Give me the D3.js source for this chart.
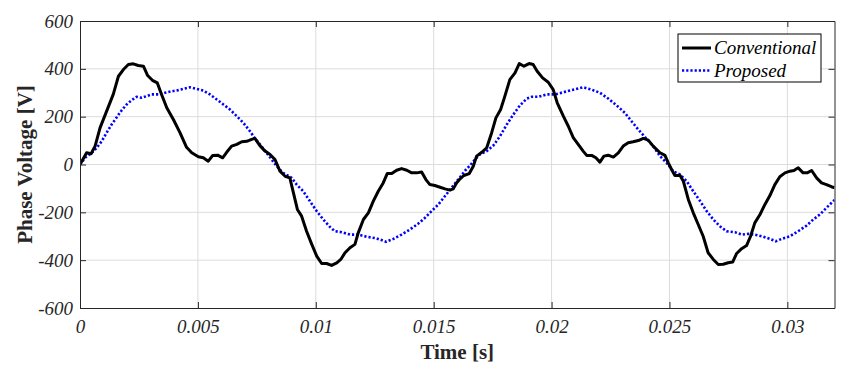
<!DOCTYPE html>
<html>
<head>
<meta charset="utf-8">
<script src="https://cdn.jsdelivr.net/npm/d3@7"></script>
<style>
  body { margin: 0; background: #fff; }
  text { font-family: "Liberation Serif", "Times New Roman", serif; }
</style>
</head>
<body>
<div id="chart"></div>
<script>
// Time [s] and voltage [V]
const convTime = [0,0.00028,0.00047,0.00064,0.00085,0.00113,0.00141,0.00163,0.00184,0.00205,0.00226,0.00247,0.00269,0.00287,0.00307,0.00328,0.00346,0.00368,0.00396,0.00424,0.00452,0.00474,0.00502,0.00523,0.00544,0.00563,0.00584,0.00605,0.00622,0.00643,0.00665,0.00686,0.00707,0.00728,0.00742,0.00763,0.00785,0.00806,0.00827,0.00848,0.0087,0.0089,0.00905,0.00922,0.0094,0.00961,0.00983,0.01004,0.01025,0.01046,0.01067,0.01089,0.01106,0.01124,0.01145,0.01166,0.0118,0.01202,0.01223,0.01244,0.01265,0.01286,0.01303,0.01322,0.01343,0.01364,0.01386,0.01407,0.01428,0.01449,0.01467,0.01484,0.01505,0.01527,0.01548,0.01569,0.01583,0.01597,0.01612,0.01628,0.01651,0.01668,0.01682,0.01704,0.01725,0.01746,0.01764,0.01784,0.01802,0.01823,0.01845,0.01863,0.01883,0.01905,0.01922,0.01939,0.01962,0.01986,0.02007,0.02024,0.0205,0.02071,0.02092,0.02113,0.02134,0.02149,0.0217,0.02188,0.02205,0.02222,0.0224,0.02262,0.02283,0.02304,0.02325,0.02346,0.02368,0.02389,0.0241,0.02431,0.0246,0.02481,0.02495,0.02509,0.02523,0.02545,0.02559,0.0258,0.02601,0.02622,0.02643,0.02664,0.02686,0.02707,0.02728,0.02749,0.02768,0.02785,0.02806,0.02827,0.02844,0.02862,0.02884,0.02905,0.02926,0.02947,0.02968,0.0299,0.03011,0.03028,0.03046,0.03067,0.03084,0.03103,0.03124,0.03145,0.03166,0.03187,0.032];
const convVolt = [0,49,45,77,153,223,293,369,397,418,421,414,411,372,352,341,293,237,188,133,72,49,32,28,14,38,39,28,51,77,84,95,97,105,109,79,56,42,21,-28,-49,-56,-118,-188,-216,-279,-334,-383,-414,-414,-422,-411,-397,-369,-348,-334,-286,-230,-202,-153,-112,-77,-38,-38,-24,-17,-24,-35,-35,-31,-63,-84,-88,-95,-102,-107,-102,-77,-60,-46,-38,-7,35,51,70,133,195,230,286,355,383,422,411,422,418,390,362,344,313,258,202,160,112,84,56,38,38,28,10,35,39,31,49,77,91,95,100,109,102,77,49,38,7,-21,-46,-46,-70,-146,-202,-251,-300,-369,-397,-418,-417,-411,-408,-372,-352,-339,-300,-244,-209,-167,-130,-84,-51,-35,-28,-25,-14,-35,-35,-25,-56,-77,-84,-93,-97];

const propTime = [0,0.00021,0.0005,0.00071,0.00092,0.00113,0.00134,0.00156,0.00177,0.00198,0.00219,0.0024,0.00262,0.00283,0.00304,0.00332,0.0036,0.00389,0.00417,0.00438,0.00466,0.00495,0.00523,0.00551,0.0058,0.00608,0.00636,0.00665,0.00693,0.00721,0.00742,0.00763,0.00785,0.00806,0.00834,0.00862,0.00898,0.00919,0.00947,0.00975,0.01004,0.01032,0.0106,0.01081,0.0111,0.01145,0.0118,0.01216,0.01258,0.01298,0.01329,0.01364,0.01399,0.01435,0.01463,0.01491,0.0152,0.01548,0.01576,0.01604,0.01633,0.01654,0.01675,0.01696,0.01725,0.01753,0.01781,0.0181,0.01838,0.01866,0.01894,0.01916,0.01944,0.01979,0.02014,0.0205,0.02092,0.02134,0.0217,0.02205,0.0224,0.02276,0.02311,0.02339,0.02368,0.02403,0.02431,0.0246,0.02488,0.02516,0.02545,0.02573,0.02601,0.0263,0.02658,0.02686,0.02714,0.02742,0.02778,0.02806,0.02834,0.02862,0.02898,0.02926,0.02951,0.02976,0.03011,0.03046,0.03082,0.0311,0.03138,0.03166,0.03195,0.032];
const propVolt = [0,28,49,70,97,133,167,198,227,251,269,283,279,286,293,293,300,306,311,316,323,316,309,293,272,251,230,202,174,139,109,84,56,30,-7,-35,-56,-84,-112,-153,-195,-230,-261,-279,-283,-293,-293,-302,-309,-323,-311,-293,-272,-247,-223,-195,-167,-132,-97,-63,-26,-4,21,42,56,79,118,167,209,247,275,283,283,293,293,302,313,323,313,300,276,247,216,181,146,107,77,35,7,-28,-42,-70,-112,-153,-195,-230,-258,-279,-283,-293,-290,-293,-302,-311,-321,-311,-300,-279,-255,-230,-209,-181,-153,-148];

const xTicks = [0, 0.005, 0.01, 0.015, 0.02, 0.025, 0.03];
const xTickLabels = ["0", "0.005", "0.01", "0.015", "0.02", "0.025", "0.03"];
const yTicks = [-600, -400, -200, 0, 200, 400, 600];
const yTickLabels = ["-600", "-400", "-200", "0", "200", "400", "600"];
const seriesNames = ["Conventional", "Proposed"];

const width = 856, height = 374;
const margin = {top: 21, right: 21.5, bottom: 66, left: 80};

const svg = d3.select("#chart").append("svg")
    .attr("width", width)
    .attr("height", height);

const x = d3.scaleLinear()
    .domain([0, 0.032])
    .range([margin.left, width - margin.right]);

const y = d3.scaleLinear()
    .domain([-600, 600])
    .range([height - margin.bottom, margin.top]);

const axisColor = "#262626";

// grid
svg.append("g").selectAll("line")
    .data(xTicks.slice(1))
    .enter().append("line")
    .attr("x1", d => x(d)).attr("x2", d => x(d))
    .attr("y1", y(-600)).attr("y2", y(600))
    .attr("stroke", "#dcdcdc").attr("stroke-width", 1);

svg.append("g").selectAll("line")
    .data(yTicks.slice(1, -1))
    .enter().append("line")
    .attr("x1", x(0)).attr("x2", x(0.032))
    .attr("y1", d => y(d)).attr("y2", d => y(d))
    .attr("stroke", "#dcdcdc").attr("stroke-width", 1);

// clip for lines
svg.append("clipPath").attr("id", "plotClip")
  .append("rect")
    .attr("x", x(0)).attr("y", y(600))
    .attr("width", x(0.032) - x(0))
    .attr("height", y(-600) - y(600));

const convData = convTime.map((t, i) => ({t: t, v: convVolt[i]}));
const propData = propTime.map((t, i) => ({t: t, v: propVolt[i]}));

const line = d3.line()
    .x(d => x(d.t))
    .y(d => y(d.v));

const plot = svg.append("g").attr("clip-path", "url(#plotClip)");

plot.append("path")
    .datum(propData)
    .attr("d", line)
    .attr("fill", "none")
    .attr("stroke", "#0000ff")
    .attr("stroke-width", 2.6)
    .attr("stroke-dasharray", "2.2,2");

plot.append("path")
    .datum(convData)
    .attr("d", line)
    .attr("fill", "none")
    .attr("stroke", "#000")
    .attr("stroke-width", 3)
    .attr("stroke-linejoin", "round");

// axes (box with inward ticks on all sides)
const tickLen = 6;
function styleAxis(g) {
    g.select(".domain").attr("stroke", axisColor);
    g.selectAll(".tick line").attr("stroke", axisColor);
    g.selectAll(".tick text")
        .attr("fill", axisColor)
        .style("font-family", "'Liberation Serif', 'Times New Roman', serif")
        .style("font-style", "italic")
        .style("font-size", "19px");
}

svg.append("g")
    .attr("transform", `translate(0,${y(-600)})`)
    .call(d3.axisBottom(x).tickValues(xTicks).tickFormat((d, i) => xTickLabels[i])
        .tickSizeInner(-tickLen).tickSizeOuter(0).tickPadding(12))
    .call(styleAxis);

svg.append("g")
    .attr("transform", `translate(0,${y(600)})`)
    .call(d3.axisTop(x).tickValues(xTicks).tickFormat("")
        .tickSizeInner(-tickLen).tickSizeOuter(0))
    .call(styleAxis);

svg.append("g")
    .attr("transform", `translate(${x(0)},0)`)
    .call(d3.axisLeft(y).tickValues(yTicks).tickFormat((d, i) => yTickLabels[i])
        .tickSizeInner(-tickLen).tickSizeOuter(0).tickPadding(7))
    .call(styleAxis);

svg.append("g")
    .attr("transform", `translate(${x(0.032)},0)`)
    .call(d3.axisRight(y).tickValues(yTicks).tickFormat("")
        .tickSizeInner(-tickLen).tickSizeOuter(0))
    .call(styleAxis);

// axis labels
svg.append("text")
    .attr("x", (x(0) + x(0.032)) / 2)
    .attr("y", 359)
    .attr("text-anchor", "middle")
    .attr("fill", axisColor)
    .style("font-weight", "bold")
    .style("font-size", "21px")
    .text("Time [s]");

svg.append("text")
    .attr("transform", `translate(32,${(y(600) + y(-600)) / 2}) rotate(-90)`)
    .attr("text-anchor", "middle")
    .attr("fill", axisColor)
    .style("font-weight", "bold")
    .style("font-size", "21px")
    .text("Phase Voltage [V]");

// legend
const legend = svg.append("g").attr("transform", "translate(678,34)");
legend.append("rect")
    .attr("width", 143).attr("height", 48)
    .attr("fill", "#fff").attr("stroke", "#000").attr("stroke-width", 1);

const legendStyles = [
    {stroke: "#000", width: 3, dash: null},
    {stroke: "#0000ff", width: 2.6, dash: "2.2,2"}
];

seriesNames.forEach((name, i) => {
    const ly = 14 + i * 22.5;
    legend.append("line")
        .attr("x1", 4).attr("x2", 33)
        .attr("y1", ly).attr("y2", ly)
        .attr("stroke", legendStyles[i].stroke)
        .attr("stroke-width", legendStyles[i].width)
        .attr("stroke-dasharray", legendStyles[i].dash);
    legend.append("text")
        .attr("x", 36).attr("y", ly + 6)
        .attr("fill", "#000")
        .style("font-style", "italic")
        .style("font-size", "19px")
        .text(name);
});
</script>
</body>
</html>
